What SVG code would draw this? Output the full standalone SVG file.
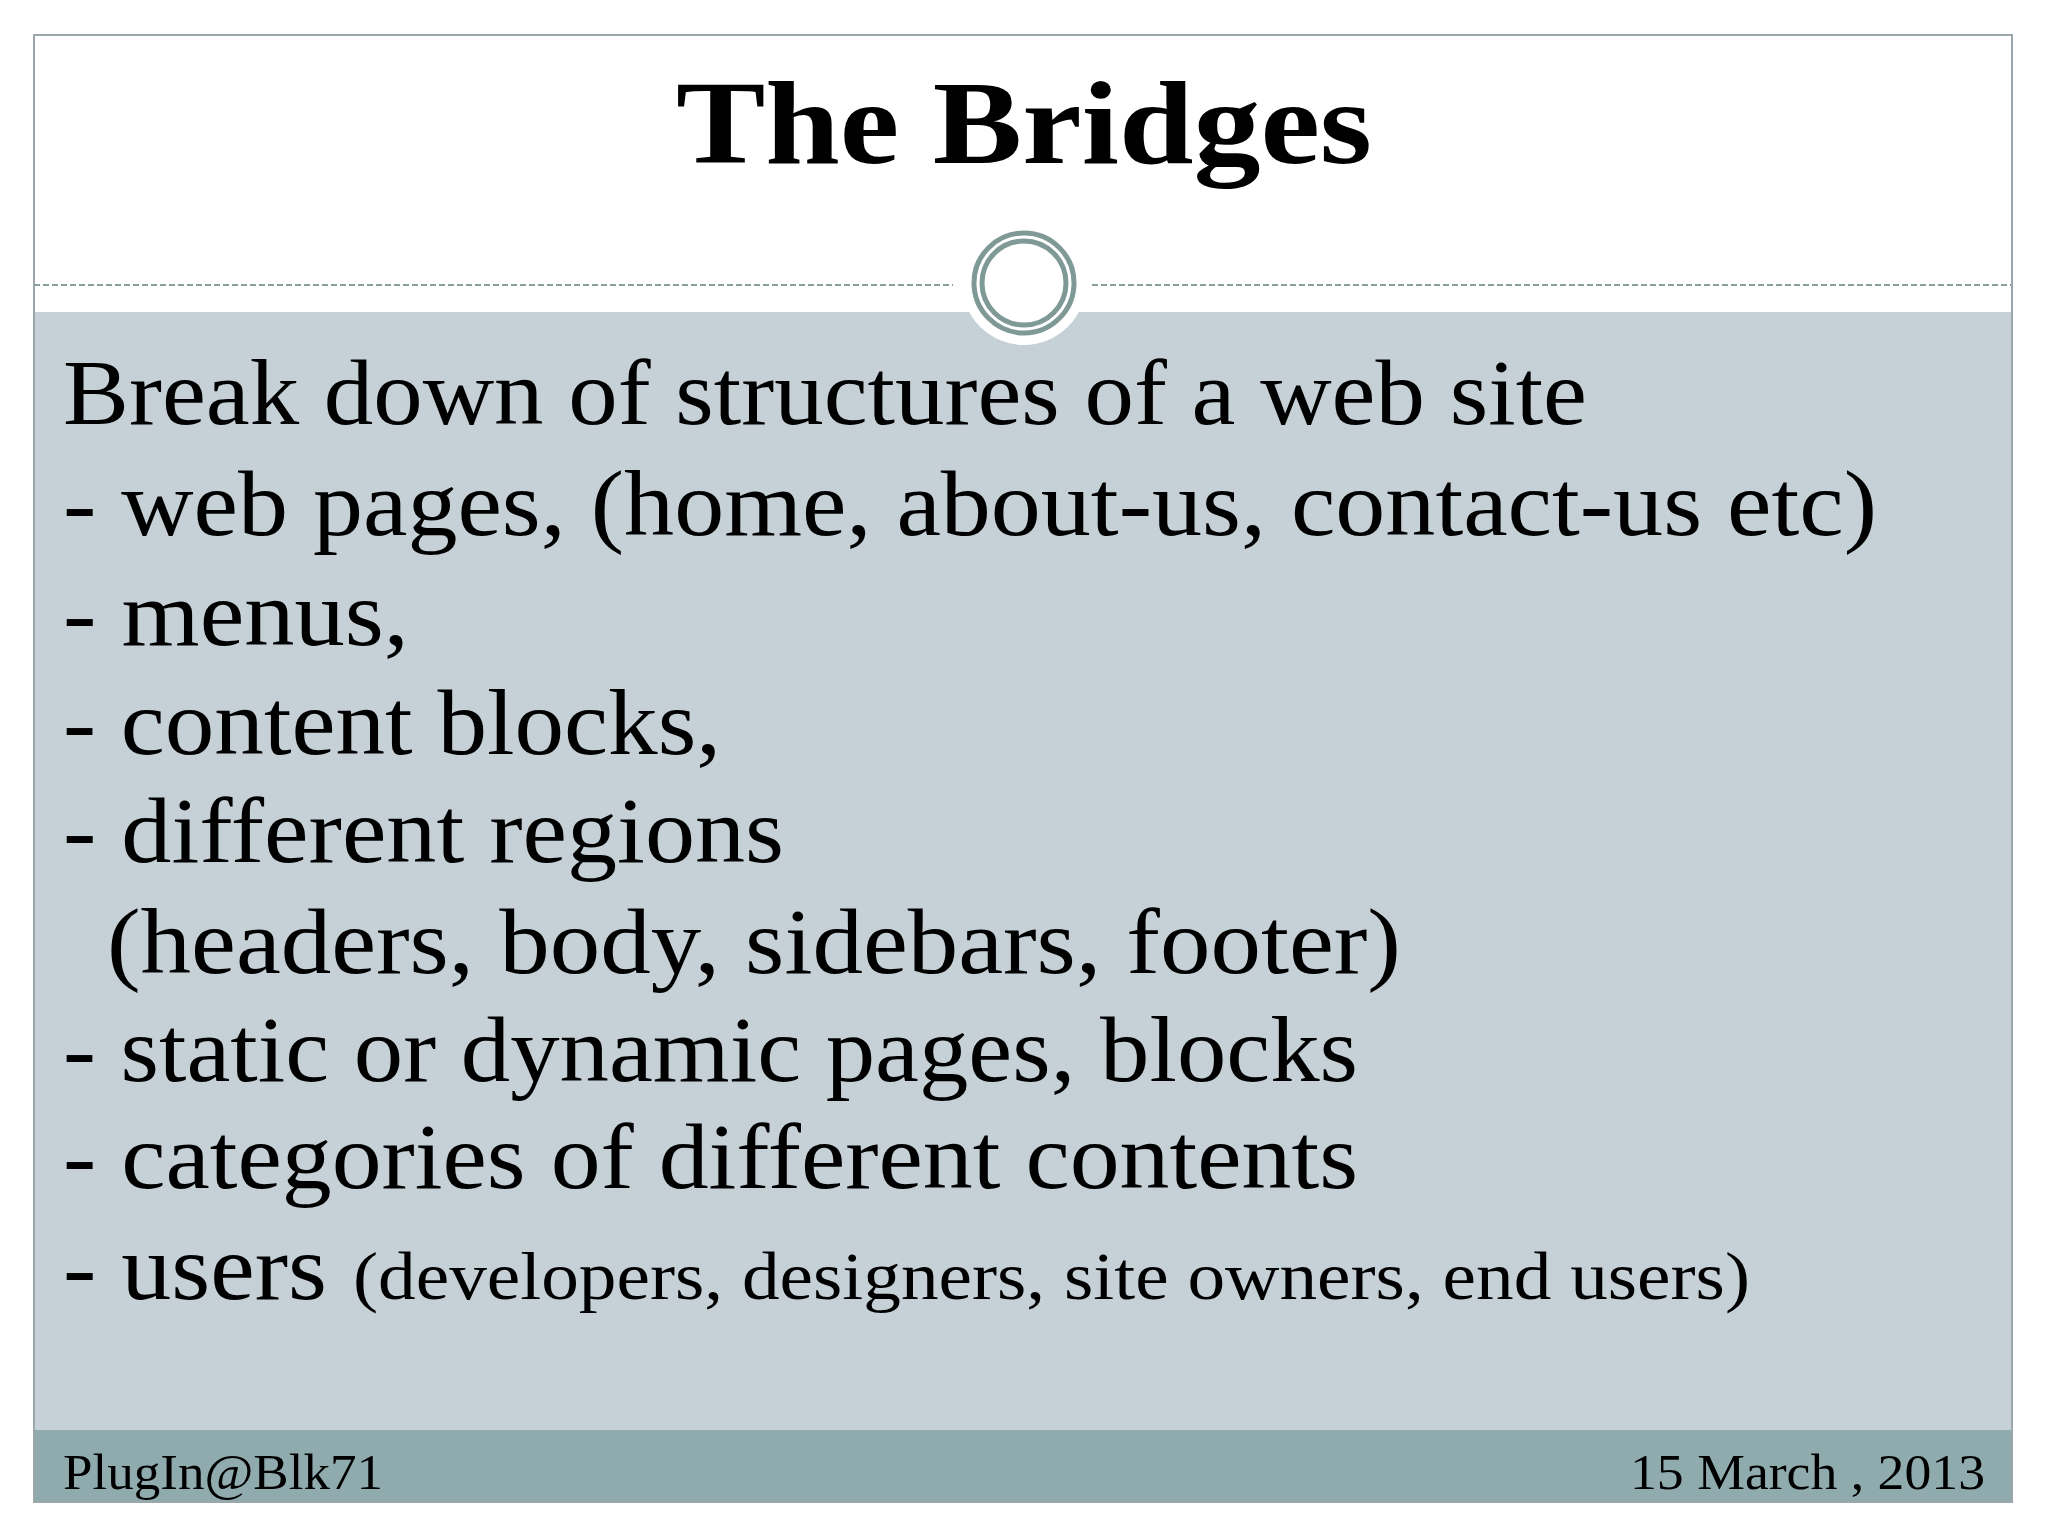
<svg xmlns="http://www.w3.org/2000/svg" width="2048" height="1536" viewBox="0 0 2048 1536">
<style>
.b{font-family:"Liberation Serif",serif;font-size:94px;fill:#000}
.s{font-size:68px}
.f{font-family:"Liberation Serif",serif;font-size:50px;fill:#000}
</style>
<rect width="2048" height="1536" fill="#fff"/>
<g id="frame">
<rect x="34" y="312" width="1978" height="1118" fill="#c5d1d6"/>
<rect x="34" y="1430" width="1978" height="72" fill="#8fabae"/>
<rect x="34" y="35" width="1978" height="1467" fill="none" stroke="#9aa8ac" stroke-width="2"/>
<line x1="34" y1="285" x2="953" y2="285" stroke="#8a9fa0" stroke-width="2" stroke-dasharray="6,3"/>
<line x1="1092" y1="285" x2="2012" y2="285" stroke="#8a9fa0" stroke-width="2" stroke-dasharray="6,3"/>
</g>
<g id="ornament">
<circle cx="1024" cy="283" r="62" fill="#fff"/>
<circle cx="1024" cy="283" r="50" fill="none" stroke="#7f9a96" stroke-width="5"/>
<circle cx="1024" cy="283" r="42" fill="none" stroke="#7f9a96" stroke-width="5"/>
</g>
<g id="title">
<text x="1024" y="163" text-anchor="middle" font-family="Liberation Serif,serif" font-weight="bold" font-size="118" textLength="696" lengthAdjust="spacingAndGlyphs">The Bridges</text>
</g>
<g id="body">
<text class="b" x="63" y="424" textLength="1524" lengthAdjust="spacingAndGlyphs">Break down of structures of a web site</text>
<text class="b" x="63" y="535" textLength="1814" lengthAdjust="spacingAndGlyphs">- web pages, (home, about-us, contact-us etc)</text>
<text class="b" x="63" y="645" textLength="346" lengthAdjust="spacingAndGlyphs">- menus,</text>
<text class="b" x="63" y="754" textLength="658" lengthAdjust="spacingAndGlyphs">- content blocks,</text>
<text class="b" x="63" y="862" textLength="721" lengthAdjust="spacingAndGlyphs">- different regions</text>
<text class="b" x="107" y="973" textLength="1294" lengthAdjust="spacingAndGlyphs">(headers, body, sidebars, footer)</text>
<text class="b" x="63" y="1081" textLength="1295" lengthAdjust="spacingAndGlyphs">- static or dynamic pages, blocks</text>
<text class="b" x="63" y="1188" textLength="1295" lengthAdjust="spacingAndGlyphs">- categories of different contents</text>
<text class="b" x="63" y="1299" textLength="264" lengthAdjust="spacingAndGlyphs">- users</text>
<text class="b s" x="353" y="1299" textLength="1397" lengthAdjust="spacingAndGlyphs">(developers, designers, site owners, end users)</text>
</g>
<g id="footer">
<text class="f" x="63" y="1489" textLength="320" lengthAdjust="spacingAndGlyphs">PlugIn@Blk71</text>
<text class="f" x="1985" y="1489" text-anchor="end" textLength="355" lengthAdjust="spacingAndGlyphs">15 March , 2013</text>
</g>
</svg>
